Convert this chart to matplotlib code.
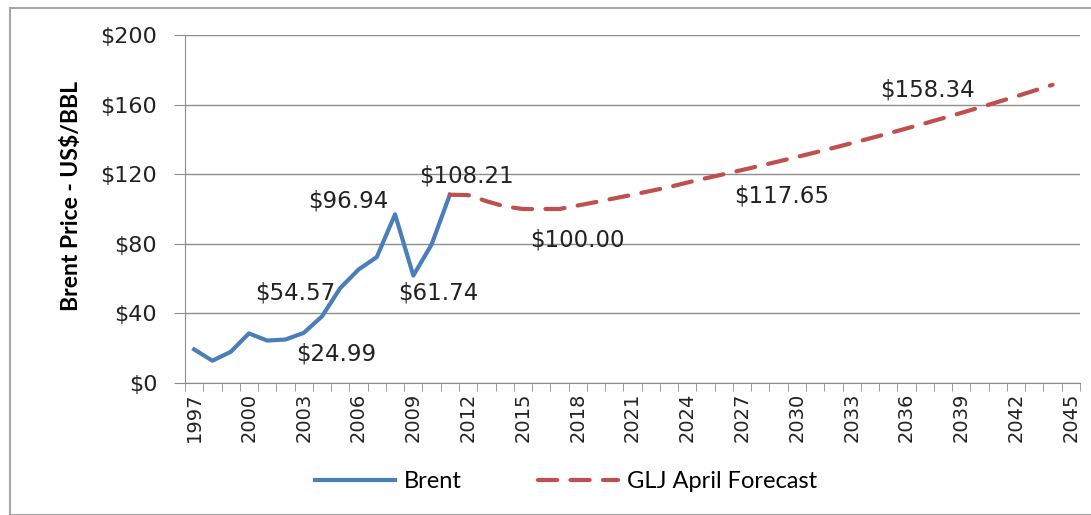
import matplotlib.pyplot as plt
from matplotlib.patches import Rectangle

plt.rcParams['font.family'] = ['DejaVu Sans']

# --- data ---
brent_years = [1997, 1998, 1999, 2000, 2001, 2002, 2003, 2004, 2005, 2006, 2007, 2008, 2009, 2010, 2011]
brent_price = [19.3, 12.8, 17.9, 28.5, 24.4, 24.99, 28.8, 38.3, 54.57, 65.2, 72.4, 96.94, 61.74, 79.6, 108.21]

fc_years = list(range(2011, 2045))
fc_price = [108.21, 108.0, 104.5, 101.5, 100.0, 100.0, 100.0, 102.0, 104.0, 106.1,
            108.2, 110.4, 112.6, 115.2, 117.65, 120.0, 122.4, 124.85, 127.35, 129.89,
            132.49, 135.14, 137.84, 140.6, 143.41, 146.28, 149.21, 152.19, 155.23, 158.34,
            161.5, 164.73, 168.03, 171.39]

# labelled points: (year, value, text, x offset px, y offset px)
labels = [
    (2002, 24.99, "$24.99", 51, -14),
    (2005, 54.57, "$54.57", -45, -5),
    (2008, 96.94, "$96.94", -47, 13),
    (2009, 61.74, "$61.74", 25, -17),
    (2011, 108.21, "$108.21", 17, 19),
    (2016, 100.0, "$100.00", 36, -31),
    (2025, 117.65, "$117.65", 76, -18),
    (2040, 158.34, "$158.34", -52, 17),
]

y_ticks = [0, 40, 80, 120, 160, 200]
x_label_years = list(range(1997, 2046, 3))

blue = '#4a7ebb'
red = '#c0504d'
grid_col = '#8c8c8c'
txt_col = '#222222'
narrow = ['Lato', 'DejaVu Sans']

fig = plt.figure(figsize=(10.91, 5.15), dpi=100)
ax = fig.add_axes([185 / 1091, 1 - 383 / 515, (1080 - 185) / 1091, (383 - 35) / 515])

ax.plot(brent_years, brent_price, color=blue, lw=3, solid_joinstyle='round', label='Brent', zorder=3)
ax.plot(fc_years, fc_price, color=red, lw=3, dashes=(4.6, 3.2), dash_capstyle='round',
        label='GLJ April Forecast', zorder=3)

for yr, val, txt, dx, dy in labels:
    ax.annotate(txt, (yr, val), xytext=(dx, dy), textcoords='offset pixels',
                ha='center', va='center', fontsize=16.5, color=txt_col, family='DejaVu Sans')

ax.set_xlim(1996.5, 2045.5)
ax.set_ylim(0, 200)
ax.set_yticks(y_ticks)
ax.set_yticklabels([f"${v}" for v in y_ticks], family='DejaVu Sans')
ax.yaxis.grid(True, color=grid_col, lw=1)
ax.set_axisbelow(True)

ax.set_xticks(x_label_years)
ax.set_xticklabels([str(y) for y in x_label_years], rotation=90, family='DejaVu Sans')
ax.set_xticks([y + 0.5 for y in range(1996, 2046)], minor=True)
ax.tick_params(axis='x', which='major', length=0, pad=7, labelsize=14, labelcolor=txt_col)
ax.tick_params(axis='x', which='minor', length=6, color=grid_col, direction='out')
ax.tick_params(axis='y', length=8, color=grid_col, labelsize=16, pad=12, labelcolor=txt_col)

for s in ['top', 'right']:
    ax.spines[s].set_visible(False)
for s in ['left', 'bottom']:
    ax.spines[s].set_color(grid_col)

ax.set_ylabel('Brent Price - US$/BBL', fontsize=16.5, fontweight='bold', color='black', family=narrow)
ax.yaxis.set_label_coords(-0.1146, 0.537)

leg = fig.legend(loc='center', bbox_to_anchor=(566 / 1091, 1 - 482 / 515), ncol=2, frameon=False,
                 prop={'family': narrow, 'size': 17},
                 handlelength=3.4, columnspacing=3.2, handletextpad=0.4)

# slide frame around the chart
fig.patches.append(Rectangle((10 / 1091, 0), 1.2, 1 - 8 / 515, transform=fig.transFigure,
                             fill=False, edgecolor='#a6a6a6', lw=1.5))

fig.savefig('out.png', dpi=100)
